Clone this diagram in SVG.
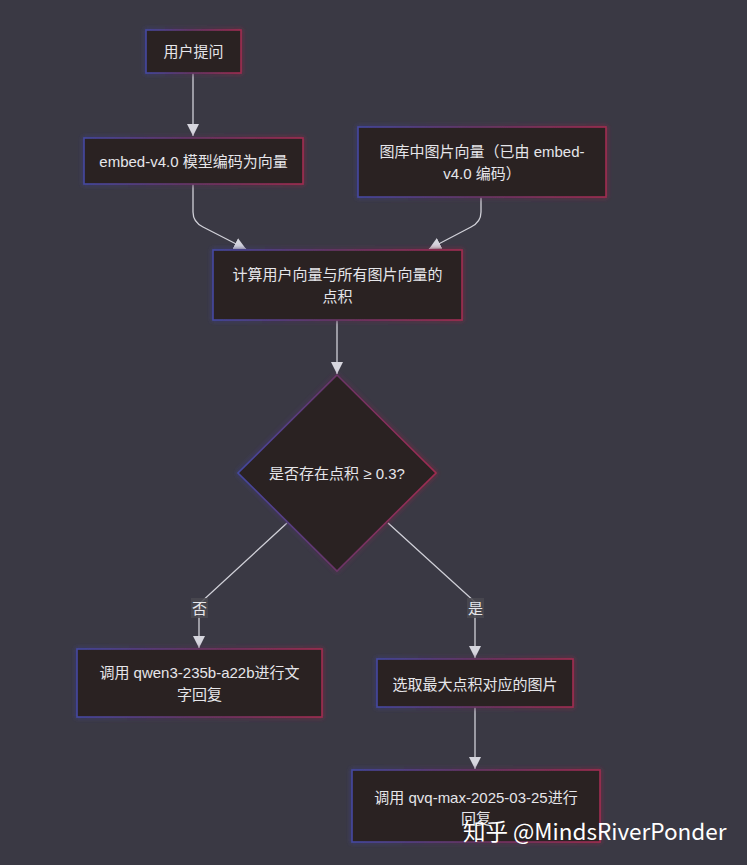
<svg xmlns="http://www.w3.org/2000/svg" width="747" height="865" viewBox="0 0 747 865">
  <defs>
    <linearGradient id="bd" x1="0" y1="0" x2="1" y2="0">
      <stop offset="0" stop-color="#4448a0"/>
      <stop offset="0.5" stop-color="#6a3566"/>
      <stop offset="1" stop-color="#a02c50"/>
    </linearGradient>
    <filter id="glow" x="-10%" y="-20%" width="120%" height="140%">
      <feGaussianBlur in="SourceGraphic" stdDeviation="2.5" result="b"/>
      <feMerge><feMergeNode in="b"/><feMergeNode in="SourceGraphic"/></feMerge>
    </filter>
    <marker id="arr" viewBox="0 0 10 10" refX="10" refY="5" markerWidth="12" markerHeight="12" markerUnits="userSpaceOnUse" orient="auto">
      <path d="M0,0 L10,5 L0,10 z" fill="#d6d6de"/>
    </marker>
    <style>
      .node rect, .node polygon { fill: #2b2024; stroke: url(#bd); stroke-width: 1.6; filter: url(#glow); }
      .t { font-family: "Liberation Sans", "Noto Sans CJK SC", sans-serif; font-size: 15px; fill: #e6e6ea; text-anchor: middle; dominant-baseline: central; }
      .edge { fill: none; stroke: #d0d0d8; stroke-width: 1.3; }
      .lbl rect { fill: #4a4950; opacity: 0.85; }
      .wm { font-family: "Noto Sans CJK SC", "Noto Sans", sans-serif; font-size: 22.5px; fill: #ffffff; }
    </style>
  </defs>
  <rect width="747" height="865" fill="#3a3944"/>

  <g id="edges">
    <path class="edge" d="M193,73 L193,136" marker-end="url(#arr)"/>
    <path class="edge" d="M193,184 L193,212 Q193,222 203,227 L246,249" marker-end="url(#arr)"/>
    <path class="edge" d="M481,197 L481,212 Q481,222 471,227 L429,249" marker-end="url(#arr)"/>
    <path class="edge" d="M337,320 L337,374" marker-end="url(#arr)"/>
    <path class="edge" d="M287,523 L199,604 L199,648" marker-end="url(#arr)"/>
    <path class="edge" d="M388,523 L475,602 L475,658" marker-end="url(#arr)"/>
    <path class="edge" d="M475,707 L475,769" marker-end="url(#arr)"/>
    <g class="lbl" id="label-no">
      <rect x="191" y="598" width="17" height="20"/>
      <text class="t" x="199.5" y="608">否</text>
    </g>
    <g class="lbl" id="label-yes">
      <rect x="467" y="598" width="17" height="20"/>
      <text class="t" x="475.5" y="608">是</text>
    </g>
  </g>

  <g id="n-ask" class="node">
    <rect x="146" y="30" width="95" height="43"/>
    <text class="t" x="193.5" y="51">用户提问</text>
  </g>
  <g id="n-embed" class="node">
    <rect x="84" y="138" width="219" height="46"/>
    <text class="t" x="193.5" y="161">embed-v4.0 模型编码为向量</text>
  </g>
  <g id="n-gallery" class="node">
    <rect x="358" y="127" width="248" height="70"/>
    <text class="t" x="482" y="151">图库中图片向量（已由 embed-</text>
    <text class="t" x="482" y="173">v4.0 编码）</text>
  </g>
  <g id="n-dot" class="node">
    <rect x="213" y="250" width="249" height="70"/>
    <text class="t" x="337.5" y="274">计算用户向量与所有图片向量的</text>
    <text class="t" x="337.5" y="296">点积</text>
  </g>
  <g id="n-decide" class="node">
    <polygon points="337,375 436,473 337,571 238,473"/>
    <text class="t" x="337" y="473">是否存在点积 ≥ 0.3?</text>
  </g>
  <g id="n-qwen" class="node">
    <rect x="77" y="649" width="245" height="68"/>
    <text class="t" x="199.5" y="672">调用 qwen3-235b-a22b进行文</text>
    <text class="t" x="199.5" y="694">字回复</text>
  </g>
  <g id="n-select" class="node">
    <rect x="377" y="659" width="196" height="48"/>
    <text class="t" x="475" y="684">选取最大点积对应的图片</text>
  </g>
  <g id="n-qvq" class="node">
    <rect x="352" y="770" width="248" height="72"/>
    <text class="t" x="476" y="797">调用 qvq-max-2025-03-25进行</text>
    <text class="t" x="476" y="818">回复</text>
  </g>

  <text class="wm" x="463" y="840">知乎 @MindsRiverPonder</text>
</svg>
